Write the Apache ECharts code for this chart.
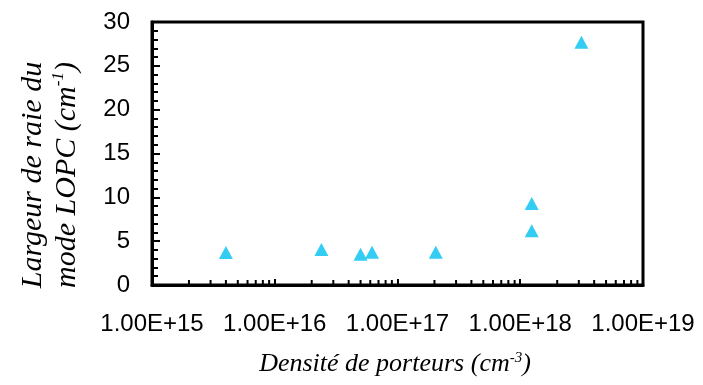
<!DOCTYPE html>
<html>
<head>
<meta charset="utf-8">
<script src="https://cdn.jsdelivr.net/npm/echarts@6/dist/echarts.min.js"></script>
<style>
html,body{margin:0;padding:0;background:#fff;}
#main{width:703px;height:385px;}
</style>
</head>
<body>
<div id="main"></div>
<script>
// Data
var densite = [4.0e15, 2.4e16, 5.0e16, 6.2e16, 2.05e17, 1.24e18, 1.24e18, 3.15e18];
var largeur = [3.7, 4.05, 3.5, 3.75, 3.75, 6.2, 9.3, 27.7];
var xDecades = [15, 16, 17, 18];
var minorMultipliers = [2, 3, 4, 5, 6, 7, 8, 9];
var yTitle = 'Largeur de raie du\nmode LOPC (cm{s|-1})';
var xTitle = 'Densité de porteurs (cm{s|-3})';

var points = densite.map(function (d, i) { return [d, largeur[i]]; });
var minorTicks = [];
xDecades.forEach(function (e) {
  minorMultipliers.forEach(function (m) { minorTicks.push([m * Math.pow(10, e), 0]); });
});

var chart = echarts.init(document.getElementById('main'), null, {renderer: 'canvas'});
var serif = '"Liberation Serif", "DejaVu Serif", serif';
var sans = '"Liberation Sans", Arial, sans-serif';

chart.setOption({
  animation: false,
  backgroundColor: '#fff',
  grid: {left: 152, right: 60, top: 22, bottom: 100, show: true, borderColor: '#000', borderWidth: 3, backgroundColor: 'transparent'},
  xAxis: {
    type: 'log', logBase: 10, min: 1e15, max: 1e19,
    axisLine: {lineStyle: {color: '#000', width: 3}},
    axisTick: {inside: true, length: 6, lineStyle: {color: '#000', width: 2}},
    splitLine: {show: false},
    axisLabel: {
      color: '#000', fontSize: 24, fontFamily: sans, margin: 27,
      formatter: function (v) { return '1.00E+' + Math.round(Math.log10(v)); }
    }
  },
  yAxis: {
    type: 'value', min: 0, max: 30, interval: 5,
    axisLine: {show: true, lineStyle: {color: '#000', width: 3}},
    axisTick: {inside: true, length: 8, lineStyle: {color: '#000', width: 2}},
    minorTick: {show: true, splitNumber: 5, length: 6, lineStyle: {color: '#000', width: 2}},
    splitLine: {show: false},
    axisLabel: {color: '#000', fontSize: 24, fontFamily: sans, margin: 22}
  },
  graphic: [
    {
      type: 'text', x: 50, y: 175, rotation: Math.PI / 2,
      style: {
        text: yTitle, fill: '#000', fontSize: 30, fontStyle: 'italic', fontFamily: serif,
        align: 'center', verticalAlign: 'middle', lineHeight: 34,
        rich: {s: {fontSize: 17, fontStyle: 'italic', fontFamily: serif, verticalAlign: 'top', fill: '#000'}}
      }
    },
    {
      type: 'text', x: 395, y: 364,
      style: {
        text: xTitle, fill: '#000', fontSize: 26, fontStyle: 'italic', fontFamily: serif,
        align: 'center', verticalAlign: 'middle',
        rich: {s: {fontSize: 15, fontStyle: 'italic', fontFamily: serif, verticalAlign: 'top', fill: '#000'}}
      }
    }
  ],
  series: [
    {
      type: 'custom', silent: true, clip: false, z: 3,
      data: minorTicks,
      renderItem: function (params, api) {
        var p = api.coord([api.value(0), api.value(1)]);
        return {type: 'line', shape: {x1: p[0], y1: p[1] - 1, x2: p[0], y2: p[1] - 5}, style: {stroke: '#000', lineWidth: 2}};
      }
    },
    {
      type: 'scatter', data: points, symbol: 'triangle', symbolSize: [14, 13],
      itemStyle: {color: '#00C0F0'}, z: 5
    }
  ]
});
</script>
</body>
</html>
